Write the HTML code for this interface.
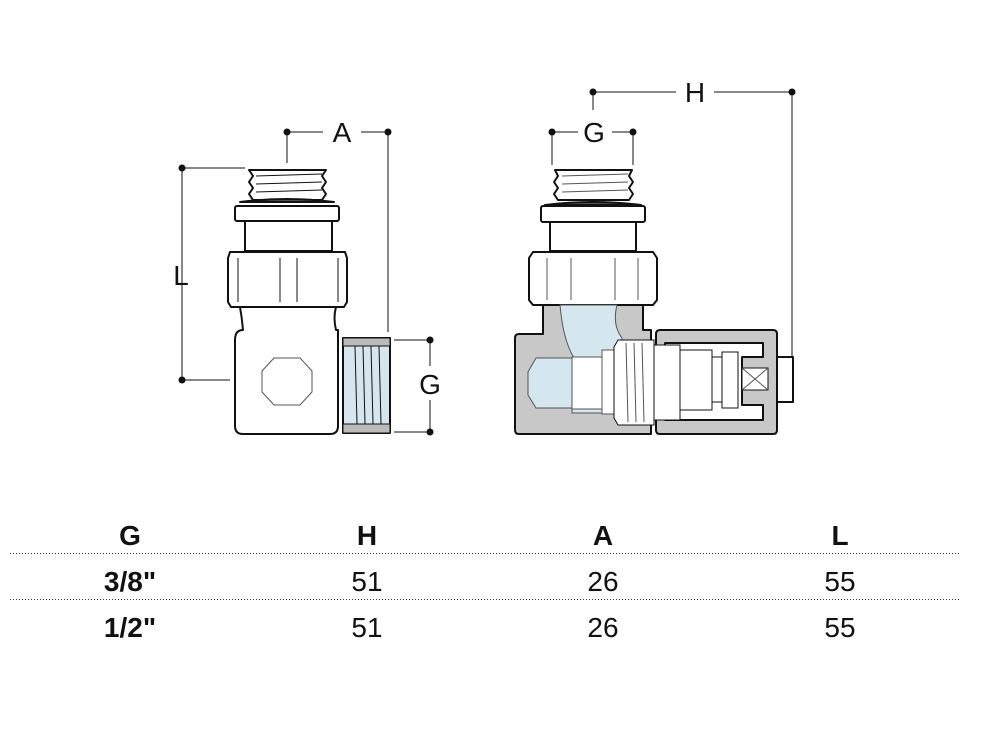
<!DOCTYPE html>
<html><head><meta charset="utf-8"><style>
html,body{margin:0;padding:0;background:#fff;width:999px;height:743px;overflow:hidden}
svg{display:block}
text{font-family:"Liberation Sans Narrow","Liberation Sans",sans-serif}
</style></head><body>
<svg width="999" height="743" viewBox="0 0 999 743" xmlns="http://www.w3.org/2000/svg">
<g stroke="#111" stroke-width="1" fill="none">
 <line x1="182" y1="168" x2="245" y2="168"/>
 <line x1="182" y1="168" x2="182" y2="380"/>
 <line x1="182" y1="380" x2="230" y2="380"/>
 <line x1="287" y1="132" x2="323" y2="132"/>
 <line x1="361" y1="132" x2="388" y2="132"/>
 <line x1="287" y1="132" x2="287" y2="163"/>
 <line x1="388" y1="132" x2="388" y2="332"/>
 <line x1="394" y1="340" x2="430" y2="340"/>
 <line x1="394" y1="432" x2="430" y2="432"/>
 <line x1="430" y1="340" x2="430" y2="366"/>
 <line x1="430" y1="400" x2="430" y2="432"/>
 <line x1="593" y1="92" x2="676" y2="92"/>
 <line x1="714" y1="92" x2="792" y2="92"/>
 <line x1="593" y1="92" x2="593" y2="110"/>
 <line x1="792" y1="92" x2="792" y2="357"/>
 <line x1="552" y1="132" x2="578" y2="132"/>
 <line x1="612" y1="132" x2="633" y2="132"/>
 <line x1="552" y1="132" x2="552" y2="165"/>
 <line x1="633" y1="132" x2="633" y2="165"/>
</g>
<g fill="#111">
 <circle cx="182" cy="168" r="3.5"/><circle cx="182" cy="380" r="3.5"/>
 <circle cx="287" cy="132" r="3.5"/><circle cx="388" cy="132" r="3.5"/>
 <circle cx="430" cy="340" r="3.5"/><circle cx="430" cy="432" r="3.5"/>
 <circle cx="593" cy="92" r="3.5"/><circle cx="792" cy="92" r="3.5"/>
 <circle cx="552" cy="132" r="3.5"/><circle cx="633" cy="132" r="3.5"/>
</g>
<g font-size="28" fill="#111" text-anchor="middle">
 <text x="342" y="142">A</text>
 <text x="181" y="285">L</text>
 <text x="430" y="394">G</text>
 <text x="695" y="102">H</text>
 <text x="594" y="142">G</text>
</g>

<g stroke="#111" stroke-width="2" fill="#fff" stroke-linejoin="round">
 <path d="M249,170 L326,170 L322,176 L326,182 L322,188 L326,194 L322,200 L253,200 L249,194 L253,188 L249,182 L253,176 Z"/>
 <path d="M240,202 Q287,196 334,202 Z" fill="#555"/>
 <rect x="235" y="206" width="104" height="15" rx="2"/>
 <rect x="245" y="221" width="87" height="30"/>
 <path d="M230,252 L345,252 L347,258 L347,302 L344,307 L231,307 L228,302 L228,258 Z"/>
 <path d="M240,307 L336,307 Q333,318 336,330 L338,330 L338,426 Q338,434 330,434 L243,434 Q235,434 235,426 L235,340 Q235,330 243,330 Q242,318 240,307 Z"/>
 <rect x="343" y="338" width="47" height="95" fill="#d6e6ee"/>
</g>
<g stroke="#111" stroke-width="1" fill="none">
 <line x1="238" y1="258" x2="238" y2="302"/><line x1="280" y1="258" x2="280" y2="302"/>
 <line x1="297" y1="258" x2="297" y2="302"/><line x1="338" y1="258" x2="338" y2="302"/>
 <path d="M262,371 L274,358 L300,358 L312,371 L312,392 L300,405 L274,405 L262,392 Z" stroke="#555"/>
 <line x1="256" y1="176" x2="322" y2="174"/><line x1="256" y1="184" x2="322" y2="182"/><line x1="256" y1="192" x2="322" y2="190"/>
 <rect x="343" y="338" width="47" height="8" fill="#bbb"/><rect x="343" y="424" width="47" height="9" fill="#bbb"/>
 <line x1="355" y1="346" x2="357" y2="424"/><line x1="363" y1="346" x2="365" y2="424"/><line x1="371" y1="346" x2="373" y2="424"/><line x1="379" y1="346" x2="381" y2="424"/>
</g>

<g stroke="#111" stroke-width="2" fill="#fff" stroke-linejoin="round">
 <path d="M555,170 L632,170 L629,176 L633,182 L629,188 L633,194 L629,200 L558,200 L554,194 L558,188 L554,182 L558,176 Z"/>
 <path d="M545,205 Q593,199 641,205 Z" fill="#555"/>
 <rect x="541" y="206" width="104" height="16" rx="2"/>
 <rect x="550" y="222" width="86" height="29"/>
 <path d="M533,252 L653,252 L657,258 L657,300 L653,305 L533,305 L529,300 L529,258 Z"/>
 <path d="M543,305 L643,305 L643,330 L651,330 L651,434 L519,434 Q515,434 515,430 L515,338 Q515,334 519,334 L543,334 Z" fill="#c8c8c8"/>
 <path d="M656,334 Q656,330 660,330 L773,330 Q777,330 777,334 L777,430 Q777,434 773,434 L660,434 Q656,434 656,430 Z" fill="#c8c8c8"/>
 <path d="M665,343 L763,343 L763,357 L742,357 L742,405 L763,405 L763,420 L665,420 Z" fill="#fff"/>
 <rect x="777" y="357" width="16" height="45" fill="#fff"/>
</g>
<g stroke="#555" stroke-width="1">
 <path d="M560,305 L617,305 Q612,325 622,338 L622,358 L652,358 L652,413 L572,413 L572,408 L536,408 L528,395 L528,372 L536,358 L574,358 Q563,340 560,305 Z" fill="#d4e6ee"/>
 <rect x="572" y="357" width="30" height="52" fill="#fff"/>
 <rect x="602" y="350" width="16" height="64" fill="#fff"/>
 <path d="M618,340 L654,340 L654,425 L618,425 L614,418 L614,347 Z" fill="#fff" stroke="#111"/>
 <rect x="654" y="345" width="26" height="75" fill="#fff" stroke="#111"/>
 <rect x="680" y="350" width="32" height="60" fill="#fff" stroke="#111"/>
 <rect x="712" y="357" width="10" height="45" fill="#fff" stroke="#111"/>
 <rect x="722" y="352" width="16" height="56" fill="#fff" stroke="#111"/>
 <rect x="742" y="368" width="26" height="22" fill="#fff" stroke="#111"/>
 <line x1="742" y1="368" x2="768" y2="390"/><line x1="768" y1="368" x2="742" y2="390"/>
 <line x1="626" y1="343" x2="628" y2="422"/><line x1="634" y1="343" x2="636" y2="422"/><line x1="642" y1="343" x2="644" y2="422"/>
 <line x1="562" y1="176" x2="628" y2="174"/><line x1="562" y1="184" x2="628" y2="182"/><line x1="562" y1="192" x2="628" y2="190"/>
 <line x1="547" y1="258" x2="547" y2="300"/><line x1="571" y1="258" x2="571" y2="300"/><line x1="615" y1="258" x2="615" y2="300"/><line x1="638" y1="258" x2="638" y2="300"/>
</g>

<g font-size="28" fill="#111" text-anchor="middle">
 <g font-weight="bold">
  <text x="130" y="545">G</text><text x="367" y="545">H</text><text x="603" y="545">A</text><text x="840" y="545">L</text>
  <text x="130" y="591">3/8"</text><text x="130" y="637">1/2"</text>
 </g>
 <text x="367" y="591">51</text><text x="603" y="591">26</text><text x="840" y="591">55</text>
 <text x="367" y="637">51</text><text x="603" y="637">26</text><text x="840" y="637">55</text>
</g>
<g stroke="#333" stroke-width="1" stroke-dasharray="1,2">
 <line x1="10" y1="553.5" x2="960" y2="553.5"/>
 <line x1="10" y1="599.5" x2="960" y2="599.5"/>
</g>
</svg>
</body></html>
